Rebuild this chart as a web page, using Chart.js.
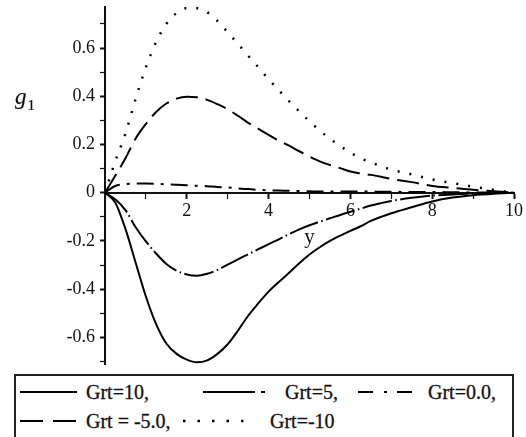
<!DOCTYPE html>
<html>
<head>
<meta charset="utf-8">
<script src="https://cdn.jsdelivr.net/npm/chart.js@4.4.1/dist/chart.umd.min.js"></script>
<style>
  html, body { margin: 0; padding: 0; background: #fff; }
  body {
    width: 526px; height: 437px; position: relative; overflow: hidden;
    font-family: "Liberation Serif", "Times New Roman", serif; color: #111;
  }
  #plot { position: absolute; left: 0; top: 0; }
  #g-label { position: absolute; left: 15px; top: 86px; font-size: 23px; line-height: 22px; white-space: nowrap; -webkit-text-stroke: 0.2px #111; }
  #g-label i { font-style: italic; }
  #g-label sub { font-size: 15px; vertical-align: -6px; margin-left: 1px; }
  #legend-box {
    position: absolute; left: 14px; top: 374px; width: 496px; height: 80px;
    border: 2px solid #222; box-sizing: content-box;
  }
  .lg-text { position: absolute; font-size: 20px; line-height: 24px; white-space: nowrap; -webkit-text-stroke: 0.3px #111; }
  .lg-line { position: absolute; }
</style>
</head>
<body>
<canvas id="plot" width="526" height="372"></canvas>
<div id="g-label"><i>g</i><sub>1</sub></div>
<div id="legend-box"></div>

<script>
// y values along the axis
const xs = [0, 0.25, 0.5, 0.75, 1, 1.25, 1.5, 1.75, 2, 2.25, 2.5, 2.75, 3, 3.25, 3.5, 3.75,
            4, 4.25, 4.5, 4.75, 5, 5.25, 5.5, 5.75, 6, 6.25, 6.5, 6.75, 7, 7.5, 8, 8.5, 9, 9.5, 10];

// g1 profiles for each Grt
const grt10 = [0, -0.04, -0.15, -0.29, -0.43, -0.545, -0.625, -0.668, -0.692, -0.703, -0.695, -0.668,
               -0.628, -0.572, -0.51, -0.458, -0.41, -0.37, -0.332, -0.292, -0.256, -0.226, -0.2,
               -0.178, -0.158, -0.139, -0.117, -0.1, -0.085, -0.06, -0.036, -0.02, -0.01, -0.004, 0];
const grt5 = [0, -0.027, -0.072, -0.143, -0.202, -0.252, -0.295, -0.323, -0.339, -0.344, -0.336, -0.32,
              -0.298, -0.276, -0.255, -0.234, -0.213, -0.193, -0.172, -0.152, -0.135, -0.12, -0.106,
              -0.092, -0.079, -0.066, -0.053, -0.043, -0.034, -0.021, -0.012, -0.007, -0.004, -0.002, 0];
const grt0 = [0, 0.028, 0.036, 0.038, 0.038, 0.037, 0.035, 0.033, 0.031, 0.029, 0.027, 0.024, 0.022,
              0.018, 0.015, 0.012, 0.01, 0.009, 0.008, 0.007, 0.006, 0.005, 0.005, 0.005, 0.005, 0.005,
              0.005, 0.004, 0.004, 0.003, 0.003, 0.002, 0.001, 0.001, 0];
const grtM5 = [0, 0.07, 0.143, 0.225, 0.285, 0.335, 0.37, 0.39, 0.398, 0.396, 0.385, 0.367, 0.346,
               0.319, 0.29, 0.265, 0.24, 0.216, 0.195, 0.172, 0.15, 0.13, 0.115, 0.102, 0.088, 0.08,
               0.074, 0.066, 0.057, 0.044, 0.028, 0.02, 0.012, 0.006, 0];
const grtM10 = [0, 0.13, 0.245, 0.39, 0.52, 0.625, 0.70, 0.745, 0.765, 0.765, 0.748, 0.712, 0.665,
                0.618, 0.568, 0.52, 0.47, 0.425, 0.38, 0.337, 0.296, 0.258, 0.224, 0.194, 0.166,
                0.143, 0.126, 0.11, 0.096, 0.076, 0.055, 0.04, 0.025, 0.012, 0];

const seriesNames = ['Grt=10,', 'Grt=5,', 'Grt=0.0,', 'Grt = -5.0,', 'Grt=-10'];
const seriesValues = [grt10, grt5, grt0, grtM5, grtM10];

const xTickLabels = ['2', '4', '6', '8', '10'];
const yTickLabels = ['-0.6', '-0.4', '-0.2', '0', '0.2', '0.4', '0.6'];

// line styles: dash in plot, dash for the legend sample
const styles = [
  { dash: [], width: 2, legendDash: '' },
  { dash: [30, 3.5, 1.5, 3.5], width: 2, legendDash: '52 6 4 100' },
  { dash: [17, 7, 3, 7], width: 2, legendDash: '15 11 3 10 15' },
  { dash: [22, 8], width: 2, legendDash: '23 10 23' },
  { dash: [2, 10], width: 2.5, legendDash: '2.5 12' }
];

const datasets = seriesValues.map((vals, i) => ({
  label: seriesNames[i],
  data: xs.map((x, j) => ({ x: x, y: vals[j] })),
  borderColor: '#000',
  borderWidth: styles[i].width,
  borderDash: styles[i].dash,
  pointRadius: 0,
  fill: false,
  cubicInterpolationMode: 'monotone'
}));

const tickFont = { family: '"Liberation Serif", "Times New Roman", serif', size: 18 };

// labelled ticks get a heavier mark than the unlabelled ones
const tickMark = ctx => (ctx.tick && ctx.tick.label !== '') ? 2 : 1.2;

new Chart(document.getElementById('plot'), {
  type: 'line',
  data: { datasets: datasets },
  options: {
    responsive: false,
    animation: false,
    devicePixelRatio: 1,
    layout: { padding: { left: 0, right: 11, top: 7, bottom: 8 } },
    plugins: { legend: { display: false }, tooltip: { enabled: false } },
    scales: {
      x: {
        type: 'linear',
        min: 0, max: 10,
        position: { y: 0 },
        border: { display: true, color: '#111', width: 2 },
        grid: { display: true, drawOnChartArea: false, drawTicks: true, tickLength: 5, tickColor: '#111', tickWidth: tickMark },
        ticks: {
          stepSize: 1, autoSkip: false, maxRotation: 0, padding: 3,
          color: '#111', font: tickFont,
          callback: v => xTickLabels.includes(String(v)) ? String(v) : ''
        },
        title: { display: true, text: 'y', color: '#111', font: { family: tickFont.family, size: 21 }, padding: { top: 0, bottom: 0 } }
      },
      y: {
        type: 'linear',
        min: -0.71, max: 0.77,
        position: 'left',
        border: { display: true, color: '#111', width: 2 },
        grid: { display: true, drawOnChartArea: false, drawTicks: true, tickLength: 5, tickColor: '#111', tickWidth: tickMark },
        ticks: {
          stepSize: 0.1, includeBounds: false, autoSkip: false, padding: 5,
          color: '#111', font: tickFont,
          callback: v => {
            const s = (Math.round(v * 10) / 10).toString();
            return yTickLabels.includes(s) ? s : '';
          }
        },
        // fixed axis strip so the plot starts at the same x every time
        afterFit: scale => {
          scale.width = 105;
          scale.paddingTop = 0;
          scale.paddingBottom = 0;
        }
      }
    }
  }
});

// legend: sample line + text, two rows
const legendSlots = [
  { lx: 20, lw: 57, tx: 86, cy: 392 },
  { lx: 203, lw: 63, tx: 285, cy: 392 },
  { lx: 358, lw: 54, tx: 428, cy: 392 },
  { lx: 20, lw: 57, tx: 86, cy: 421 },
  { lx: 183, lw: 64, tx: 270, cy: 421 }
];

legendSlots.forEach((slot, i) => {
  const ns = 'http://www.w3.org/2000/svg';
  const svg = document.createElementNS(ns, 'svg');
  svg.setAttribute('class', 'lg-line');
  svg.setAttribute('width', slot.lw);
  svg.setAttribute('height', 8);
  svg.style.left = slot.lx + 'px';
  svg.style.top = (slot.cy - 4) + 'px';
  const ln = document.createElementNS(ns, 'line');
  ln.setAttribute('x1', 0); ln.setAttribute('y1', 4);
  ln.setAttribute('x2', slot.lw); ln.setAttribute('y2', 4);
  ln.setAttribute('stroke', '#000');
  ln.setAttribute('stroke-width', styles[i].width);
  if (styles[i].legendDash) ln.setAttribute('stroke-dasharray', styles[i].legendDash);
  svg.appendChild(ln);
  document.body.appendChild(svg);

  const t = document.createElement('div');
  t.className = 'lg-text';
  t.textContent = seriesNames[i];
  t.style.left = slot.tx + 'px';
  t.style.top = (slot.cy - 12) + 'px';
  document.body.appendChild(t);
});
</script>
</body>
</html>
